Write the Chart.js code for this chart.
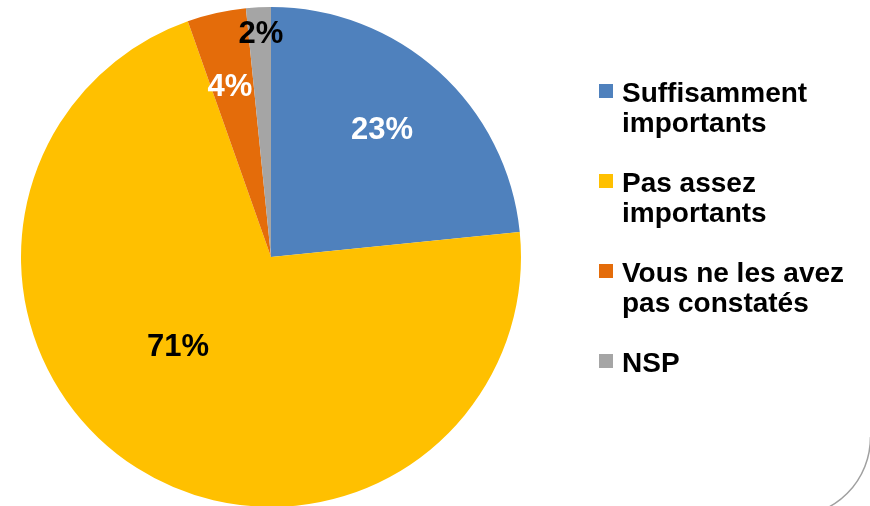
<!DOCTYPE html>
<html>
<head>
<meta charset="utf-8">
<script src="https://cdn.jsdelivr.net/npm/chart.js@4/dist/chart.umd.min.js"></script>
<style>
  html, body { margin: 0; padding: 0; background: #ffffff; overflow: hidden; width: 870px; height: 506px; }
  #wrap { position: relative; width: 870px; height: 506px; overflow: hidden; }
  canvas { position: absolute; left: 0; top: 0; }
  #legend { position: absolute; left: 599px; top: 78px; font-family: "Liberation Sans", Arial, sans-serif; font-weight: bold; font-size: 28px; line-height: 30px; color: #000; }
  .item { position: relative; padding-left: 23px; margin-bottom: 30px; white-space: nowrap; }
  .sw { position: absolute; left: 0; top: 6px; width: 14px; height: 14px; }
</style>
</head>
<body>
<div id="wrap">
  <canvas id="c" width="870" height="514"></canvas>
  <div id="legend"></div>
</div>
<script>
const categories = ["Suffisamment importants", "Pas assez importants", "Vous ne les avez pas constatés", "NSP"];
const legendLines = [["Suffisamment", "importants"], ["Pas assez", "importants"], ["Vous ne les avez", "pas constatés"], ["NSP"]];
const values = [23.4, 71.2, 3.8, 1.6];
const colors = ["#4F81BD", "#FFC000", "#E46C0A", "#A5A5A5"];
const labelColors = ["#FFFFFF", "#000000", "#FFFFFF", "#000000"];
// label placement within each slice: fraction along the slice angle, fraction of radius
const labelAngleFrac = [0.486, 0.554, 0.434, 0.55];
const labelRadiusFrac = [0.678, 0.515, 0.703, 0.897];

const sliceLabels = {
  id: 'sliceLabels',
  afterDatasetsDraw(chart) {
    const ctx = chart.ctx;
    const meta = chart.getDatasetMeta(0);
    const data = chart.data.datasets[0].data;
    const total = data.reduce((s, v) => s + v, 0);
    ctx.save();
    ctx.font = 'bold 31px "Liberation Sans", Arial, sans-serif';
    ctx.textAlign = 'center';
    ctx.textBaseline = 'middle';
    meta.data.forEach((arc, i) => {
      const p = arc.getProps(['x', 'y', 'startAngle', 'endAngle', 'outerRadius'], true);
      const a = p.startAngle + (p.endAngle - p.startAngle) * labelAngleFrac[i];
      const r = p.outerRadius * labelRadiusFrac[i];
      ctx.fillStyle = labelColors[i];
      const txt = Math.round(data[i] / total * 100) + '%';
      ctx.fillText(txt, p.x + Math.cos(a) * r, p.y + Math.sin(a) * r + 1);
    });
    ctx.restore();
  }
};

const cornerFrame = {
  id: 'cornerFrame',
  afterDraw(chart) {
    const ctx = chart.ctx;
    ctx.save();
    ctx.strokeStyle = '#A0A0A0';
    ctx.lineWidth = 1.5;
    ctx.beginPath();
    ctx.arc(790.5, 437, 80, 0, Math.PI / 2);
    ctx.stroke();
    ctx.restore();
  }
};

new Chart(document.getElementById('c'), {
  type: 'pie',
  data: {
    labels: categories,
    datasets: [{
      data: values,
      backgroundColor: colors,
      borderWidth: 0,
      hoverOffset: 0
    }]
  },
  options: {
    responsive: false,
    animation: false,
    layout: { padding: { top: 7, bottom: 7, left: 21, right: 349 } },
    plugins: {
      legend: { display: false },
      tooltip: { enabled: false }
    }
  },
  plugins: [sliceLabels, cornerFrame]
});

const leg = document.getElementById('legend');
legendLines.forEach((lines, i) => {
  const item = document.createElement('div');
  item.className = 'item';
  const sw = document.createElement('span');
  sw.className = 'sw';
  sw.style.background = colors[i];
  item.appendChild(sw);
  lines.forEach((t, j) => {
    if (j > 0) item.appendChild(document.createElement('br'));
    item.appendChild(document.createTextNode(t));
  });
  leg.appendChild(item);
});
</script>
</body>
</html>
